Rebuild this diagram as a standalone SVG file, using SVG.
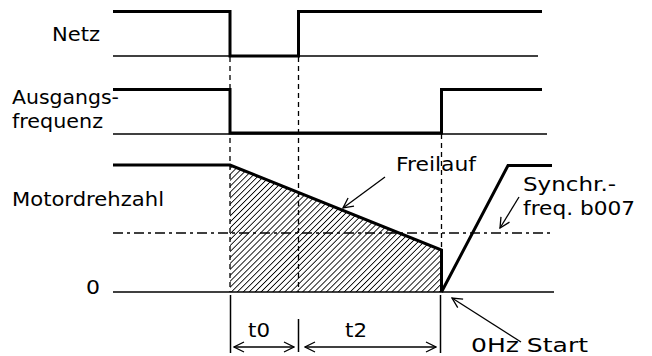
<svg xmlns="http://www.w3.org/2000/svg" width="652" height="356" viewBox="0 0 652 356">
<style>
.t{font-family:"DejaVu Sans",Verdana,sans-serif;font-size:20px;fill:#000}
.thick{fill:none;stroke:#000;stroke-width:3;stroke-linejoin:miter}
.thin{fill:none;stroke:#000;stroke-width:1.5}
.dash{fill:none;stroke:#000;stroke-width:1.3;stroke-dasharray:5 4}
.dd{fill:none;stroke:#000;stroke-width:1.3;stroke-dasharray:10 4 3 4}
.arr{fill:none;stroke:#000;stroke-width:1.3}
</style>
<defs>
<pattern id="hatch" patternUnits="userSpaceOnUse" width="4.2" height="4.2" patternTransform="rotate(45)">
<line x1="0" y1="0" x2="0" y2="4.2" stroke="#000" stroke-width="1.7"/>
</pattern>
<marker id="open" viewBox="0 0 12 12" refX="11" refY="6" markerWidth="12" markerHeight="12" markerUnits="userSpaceOnUse" orient="auto-start-reverse">
<path d="M1,1 L11,6 L1,11" fill="none" stroke="#000" stroke-width="1.3"/>
</marker>
</defs>
<rect width="652" height="356" fill="#fff"/>

<g id="hatch-area">
<polygon points="230,165 441,250 441,292 230,292" fill="url(#hatch)"/>
</g>

<g id="guides">
<line class="dash" x1="230" y1="57" x2="230" y2="292"/>
<line class="dash" x1="298.5" y1="57" x2="298.5" y2="292"/>
<line class="dash" x1="441.5" y1="134" x2="441.5" y2="250"/>
<line class="dd" x1="113" y1="233" x2="553" y2="233"/>
</g>

<g id="netz">
<line class="thin" x1="113" y1="56" x2="538" y2="56"/>
<polyline class="thick" points="113,11.5 230,11.5 230,56 298.5,56 298.5,11.5 542,11.5"/>
<text class="t" x="52" y="41" textLength="48" lengthAdjust="spacingAndGlyphs">Netz</text>
</g>

<g id="ausgangsfrequenz">
<line class="thin" x1="113" y1="134" x2="547" y2="134"/>
<polyline class="thick" points="113,89.5 230,89.5 230,133 441.5,133 441.5,89.5 542,89.5"/>
<text class="t" x="12" y="104" textLength="107" lengthAdjust="spacingAndGlyphs">Ausgangs-</text>
<text class="t" x="12" y="128" textLength="91" lengthAdjust="spacingAndGlyphs">frequenz</text>
</g>

<g id="motordrehzahl">
<line class="thin" x1="113" y1="292" x2="554" y2="292"/>
<polyline class="thick" points="113,165 230,165 441.5,250 441.5,292"/>
<polyline class="thick" points="441.5,292 508,165.5 552,165.5"/>
<text class="t" x="12" y="206" textLength="152" lengthAdjust="spacingAndGlyphs">Motordrehzahl</text>
<text class="t" x="86" y="294" textLength="14" lengthAdjust="spacingAndGlyphs">0</text>
</g>

<g id="labels">
<text class="t" x="396" y="171" textLength="80" lengthAdjust="spacingAndGlyphs">Freilauf</text>
<text class="t" x="523" y="191" textLength="93" lengthAdjust="spacingAndGlyphs">Synchr.-</text>
<text class="t" x="523" y="215" textLength="112" lengthAdjust="spacingAndGlyphs">freq. b007</text>
<text class="t" x="248" y="337" textLength="22" lengthAdjust="spacingAndGlyphs">t0</text>
<text class="t" x="345" y="337" textLength="22" lengthAdjust="spacingAndGlyphs">t2</text>
<text class="t" x="471" y="352" font-size="21" textLength="117" lengthAdjust="spacingAndGlyphs">0Hz Start</text>
</g>

<g id="dimensions">
<line class="thin" x1="230.5" y1="295" x2="230.5" y2="353"/>
<line class="thin" x1="298.5" y1="319" x2="298.5" y2="352"/>
<line class="thin" x1="440.5" y1="295" x2="440.5" y2="353"/>
</g>

<g id="connectors">
<line class="arr" x1="234" y1="347" x2="294" y2="347" marker-start="url(#open)" marker-end="url(#open)"/>
<line class="arr" x1="305" y1="347" x2="436" y2="347" marker-start="url(#open)" marker-end="url(#open)"/>
<line class="arr" x1="385" y1="177" x2="343" y2="208" marker-end="url(#open)"/>
<line class="arr" x1="519" y1="197" x2="500" y2="228" marker-end="url(#open)"/>
<line class="arr" x1="521" y1="342" x2="452" y2="298" marker-end="url(#open)"/>
</g>
</svg>
